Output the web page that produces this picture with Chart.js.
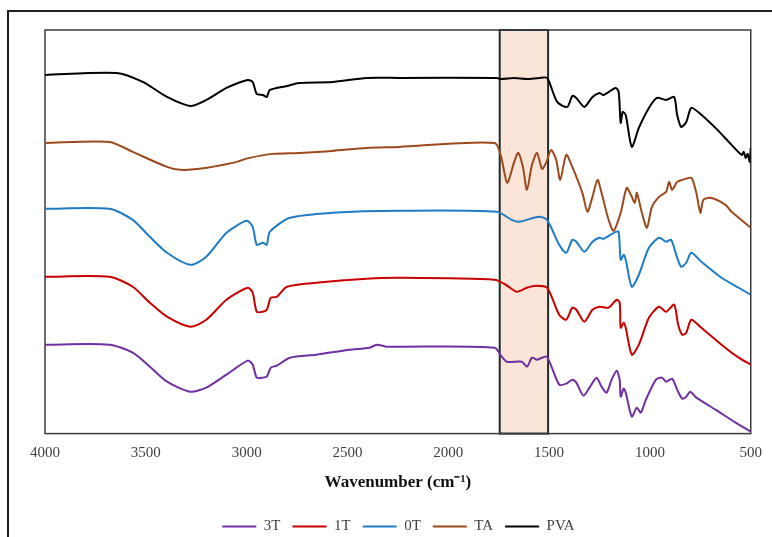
<!DOCTYPE html>
<html>
<head>
<meta charset="utf-8">
<script src="https://cdn.jsdelivr.net/npm/chart.js@4.4.1/dist/chart.umd.min.js"></script>
<style>
  html, body { margin: 0; padding: 0; background: #fff; overflow: hidden; }
  #frame { position: absolute; left: 7px; top: 10px; width: 900px; height: 900px; border: 2px solid #1e1e1e; }
  #ftir { position: absolute; left: 0; top: 0; }
</style>
</head>
<body>
<div id="frame"></div>
<canvas id="ftir" width="772" height="537"></canvas>
<script>
// wavenumber ticks and highlighted band (cm-1)
const xTicks = [4000, 3500, 3000, 2500, 2000, 1500, 1000, 500];
const bandRange = [1745, 1505];

const seriesNames = ['3T', '1T', '0T', 'TA', 'PVA'];

// spectra (stacked, arbitrary transmittance units)
const pvaX = [4000, 3645, 3515, 3395, 3280, 3200, 3100, 2995, 2970, 2950, 2920, 2900, 2885, 2800, 2740, 2575, 2405, 2245, 1760, 1738, 1673, 1610, 1550, 1510, 1460, 1410, 1385, 1365, 1325, 1285, 1250, 1230, 1170, 1155, 1145, 1135, 1120, 1090, 1055, 1005, 965, 920, 880, 865, 845, 820, 795, 755, 675, 595, 545, 535, 525, 515, 505, 500];
const pvaY = [89.75, 90.25, 88, 84.25, 82, 83.5, 86.5, 88.5, 88, 85, 84.75, 84.25, 86, 87, 87.75, 88, 89, 89, 89, 88.75, 89, 88.75, 89, 89, 83, 81.75, 84.5, 84, 81.75, 84.25, 85.25, 84.75, 86.5, 85.5, 77.75, 80.5, 79.75, 71.75, 76.5, 81.5, 84, 83.5, 84.25, 79.75, 76.75, 78, 81.5, 80.25, 76.5, 72.25, 69.75, 70.5, 69, 70, 68, 71.5];

const taX = [4000, 3680, 3565, 3395, 3330, 3235, 3070, 2985, 2870, 2740, 2575, 2405, 2245, 1770, 1738, 1708, 1673, 1653, 1630, 1610, 1585, 1560, 1535, 1515, 1490, 1465, 1445, 1415, 1385, 1335, 1310, 1285, 1260, 1240, 1205, 1180, 1145, 1115, 1090, 1075, 1065, 1040, 1015, 990, 955, 920, 905, 890, 865, 840, 795, 770, 750, 735, 700, 625, 595, 500];
const taY = [72.75, 73, 70.5, 66.75, 66, 66.25, 67.75, 69, 70, 70.25, 70.75, 71.5, 71.75, 72.75, 69.25, 62.75, 68, 70.25, 66.75, 61, 67.25, 70.25, 66.25, 67.75, 71, 68.5, 63.5, 69.75, 66.75, 60.25, 55.5, 59.25, 63.5, 60.25, 53.5, 50.75, 55.25, 61.5, 59.25, 57.75, 60.25, 55.25, 51.5, 56.75, 59.25, 60.5, 63, 61, 63, 63.5, 64, 60.25, 55.25, 58.5, 59, 57.25, 55.5, 51.5];

const t0X = [4000, 3680, 3565, 3480, 3395, 3280, 3200, 3100, 3000, 2970, 2950, 2920, 2900, 2885, 2785, 2575, 2245, 1760, 1685, 1650, 1550, 1510, 1450, 1415, 1385, 1365, 1325, 1285, 1250, 1230, 1170, 1155, 1145, 1130, 1120, 1090, 1055, 1005, 955, 920, 895, 865, 845, 820, 795, 745, 645, 560, 500];
const t0Y = [56.25, 56.25, 53.5, 49.25, 45.25, 42.25, 44.25, 50.25, 53.25, 51.75, 47.25, 47.75, 47.25, 50.5, 54, 55.25, 55.75, 55.5, 53.5, 53, 54.25, 53.5, 47.25, 45.25, 48.5, 48, 45.5, 48, 49, 48.75, 50.5, 50.5, 43.5, 44.75, 43.5, 36.75, 39.75, 46.5, 49, 48, 48.5, 44, 41.75, 42.75, 45.25, 43, 39, 36.5, 34.75];

const t1X = [4000, 3680, 3565, 3480, 3395, 3280, 3200, 3100, 2995, 2970, 2950, 2920, 2900, 2880, 2850, 2800, 2655, 2405, 2245, 1770, 1715, 1660, 1610, 1565, 1510, 1450, 1415, 1385, 1365, 1325, 1285, 1250, 1205, 1165, 1150, 1145, 1130, 1120, 1090, 1055, 1005, 955, 920, 880, 860, 840, 820, 795, 745, 645, 560, 500];
const t1Y = [39.25, 39.25, 36.75, 32.75, 29.25, 26.75, 28.5, 33.5, 36.5, 35.25, 30.5, 30.5, 31, 34, 34.25, 36.75, 37.75, 38.75, 39, 38.5, 37.25, 35.5, 36.5, 37, 36.5, 29.75, 28.5, 31.5, 31, 28, 31, 31.75, 31.5, 33.5, 32.75, 26.5, 27.75, 26.5, 19.75, 22.25, 29, 31.75, 30.5, 32.25, 27.25, 24.75, 25.25, 28.5, 26.5, 22.25, 19, 17.25];

const t3X = [4000, 3680, 3565, 3480, 3395, 3280, 3200, 3100, 2995, 2970, 2950, 2920, 2900, 2880, 2850, 2785, 2655, 2490, 2390, 2355, 2305, 2245, 1770, 1735, 1710, 1635, 1610, 1585, 1560, 1535, 1510, 1450, 1415, 1385, 1365, 1330, 1300, 1265, 1240, 1215, 1190, 1165, 1150, 1145, 1130, 1120, 1090, 1065, 1045, 1020, 970, 940, 920, 890, 865, 840, 820, 800, 770, 675, 575, 500];
const t3Y = [22.25, 22.25, 20.25, 16.75, 13, 10.5, 11.5, 14.75, 18.25, 17.25, 14, 14, 14.25, 16.5, 17, 19, 19.75, 21, 21.5, 22.25, 21.75, 21.75, 21.5, 19.25, 18, 18, 16.75, 19, 18.5, 19, 19.25, 12.25, 12.5, 13.5, 12.75, 9.5, 11.5, 14, 11.75, 10.25, 13.5, 15.75, 13.5, 9.25, 11.25, 10.25, 4.25, 6.5, 5.25, 8.5, 13.5, 14, 13, 13.75, 11, 8.75, 9.25, 10.5, 9, 6, 2.75, 0.5];

const seriesX = [t3X, t1X, t0X, taX, pvaX];
const seriesY = [t3Y, t1Y, t0Y, taY, pvaY];
const COLORS = ['#7030a0', '#c80000', '#1f7cc4', '#9c4a1c', '#000000'];

const SERIF = "'Liberation Serif', 'Times New Roman', serif";

// band box + plot frame
const boxPlugin = {
  id: 'boxes',
  beforeDatasetsDraw(chart) {
    const { ctx, chartArea: a, scales: { x } } = chart;
    const x1 = x.getPixelForValue(bandRange[0]);
    const x2 = x.getPixelForValue(bandRange[1]);
    ctx.save();
    ctx.fillStyle = '#fbe4d8';
    ctx.fillRect(x1, a.top, x2 - x1, a.bottom - a.top);
    ctx.strokeStyle = '#1d2b2c';
    ctx.lineWidth = 2;
    ctx.strokeRect(x1, a.top, x2 - x1, a.bottom - a.top);
    ctx.strokeStyle = '#3c3c3c';
    ctx.lineWidth = 1.5;
    ctx.strokeRect(a.left, a.top, a.right - a.left, a.bottom - a.top);
    ctx.restore();
  }
};

new Chart(document.getElementById('ftir'), {
  type: 'line',
  data: {
    datasets: seriesNames.map((name, i) => ({
      label: name,
      data: seriesX[i].map((wn, j) => ({ x: wn, y: seriesY[i][j] })),
      borderColor: COLORS[i],
      backgroundColor: COLORS[i],
      borderWidth: 2,
      pointRadius: 0,
      tension: 0.25,
      fill: false
    }))
  },
  options: {
    responsive: false,
    animation: false,
    layout: { padding: { left: 45, right: 20, top: 30, bottom: -7 } },
    scales: {
      x: {
        type: 'linear',
        reverse: true,
        min: 500,
        max: 4000,
        afterBuildTicks: axis => { axis.ticks = xTicks.map(v => ({ value: v })); },
        grid: { display: false, drawTicks: false },
        border: { display: false },
        ticks: {
          color: '#404040',
          padding: 10,
          font: { family: SERIF, size: 15 },
          callback: v => String(v)
        },
        title: {
          display: true,
          text: 'Wavenumber (cm\u207B\u00B9)',
          color: '#111',
          padding: { top: 1, bottom: 14 },
          font: { family: SERIF, size: 17, weight: 'bold' }
        }
      },
      y: { display: false, min: 0, max: 101 }
    },
    plugins: {
      legend: {
        position: 'bottom',
        labels: {
          usePointStyle: true,
          pointStyle: 'line',
          pointStyleWidth: 34,
          padding: 12,
          color: '#404040',
          font: { family: SERIF, size: 15 }
        }
      },
      tooltip: { enabled: false }
    }
  },
  plugins: [boxPlugin]
});
</script>
</body>
</html>
